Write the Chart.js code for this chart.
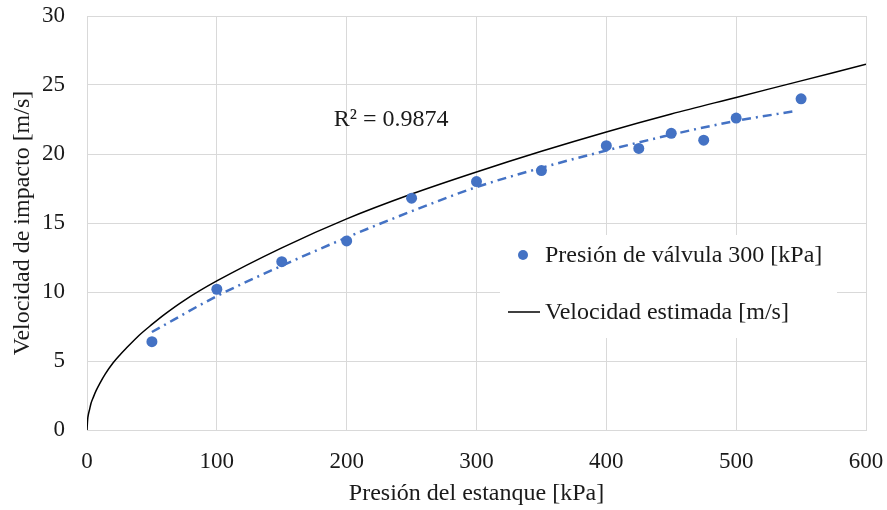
<!DOCTYPE html>
<html>
<head>
<meta charset="utf-8">
<script src="https://cdn.jsdelivr.net/npm/chart.js@4.4.1/dist/chart.umd.min.js"></script>
<style>
html,body{margin:0;padding:0;background:#fff;}
#wrap{width:887px;height:510px;position:relative;}
</style>
</head>
<body>
<div id="wrap"><canvas id="c" width="887" height="510"></canvas></div>
<script>
// Measured data (Presión de válvula 300 kPa)
const pressures = [50, 100, 150, 200, 250, 300, 350, 400, 425, 450, 475, 500, 550];
const impactVelocity = [6.4, 10.2, 12.2, 13.7, 16.8, 18.0, 18.8, 20.6, 20.4, 21.5, 21.0, 22.6, 24.0];
// Estimated velocity curve
const estPressure = [0, 0.5, 1, 2, 3, 5, 7, 10, 14, 20, 25, 30, 40, 50, 60, 75, 100, 150, 200, 250, 300, 350, 400, 450, 500, 550, 600];
const estVelocity = [0, 0.77, 1.1, 1.5, 1.9, 2.4, 2.85, 3.4, 4.05, 4.85, 5.4, 5.9, 6.85, 7.65, 8.4, 9.4, 10.8, 13.2, 15.3, 17.1, 18.7, 20.2, 21.6, 22.9, 24.1, 25.3, 26.5];
// Trend line (dash-dot)
const trendPressure = [50, 100, 150, 200, 250, 300, 350, 400, 450, 500, 545];
const trendVelocity = [7.1, 9.7, 11.9, 13.95, 15.85, 17.6, 19.0, 20.25, 21.4, 22.4, 23.1];
// Labels
const seriesLabels = ["Presión de válvula 300 [kPa]", "Velocidad estimada [m/s]"];
const xTitle = "Presión del estanque [kPa]";
const yTitle = "Velocidad de impacto [m/s]";
const r2Text = "R² = 0.9874";

const FONT = "'Liberation Serif', 'DejaVu Serif', serif";
const BLUE = '#4472C4';
const TXT = '#1a1a1a';
const GRID = '#d9d9d9';

const toXY = (xs, ys) => xs.map((x, i) => ({x: x, y: ys[i]}));

const overlay = {
  id: 'overlay',
  afterDatasetsDraw(chart) {
    const ctx = chart.ctx;
    const xs = chart.scales.x, ys = chart.scales.y;
    ctx.save();
    // R² annotation
    ctx.font = "24px " + FONT;
    ctx.fillStyle = TXT;
    ctx.textBaseline = 'middle';
    ctx.textAlign = 'left';
    ctx.fillText(r2Text, xs.getPixelForValue(190), ys.getPixelForValue(22.45));
    // Legend box
    ctx.fillStyle = '#ffffff';
    ctx.fillRect(500, 235, 337, 103);
    ctx.fillStyle = BLUE;
    ctx.beginPath();
    ctx.arc(523, 255, 5, 0, Math.PI * 2);
    ctx.fill();
    ctx.fillStyle = TXT;
    ctx.fillText(seriesLabels[0], 545, 256);
    ctx.strokeStyle = '#000';
    ctx.lineWidth = 1.5;
    ctx.beginPath();
    ctx.moveTo(508, 312);
    ctx.lineTo(540, 312);
    ctx.stroke();
    ctx.fillText(seriesLabels[1], 545, 313);
    ctx.restore();
  }
};

new Chart(document.getElementById('c'), {
  data: {
    datasets: [
      {
        type: 'scatter',
        label: seriesLabels[0],
        data: toXY(pressures, impactVelocity),
        pointRadius: 5.5,
        pointHoverRadius: 5.5,
        backgroundColor: BLUE,
        borderWidth: 0,
        showLine: false,
        order: 0
      },
      {
        type: 'line',
        label: 'trend',
        data: toXY(trendPressure, trendVelocity),
        borderColor: BLUE,
        borderWidth: 2.5,
        borderDash: [9, 5, 2, 5],
        pointRadius: 0,
        cubicInterpolationMode: 'monotone',
        fill: false,
        order: 1
      },
      {
        type: 'line',
        label: seriesLabels[1],
        data: toXY(estPressure, estVelocity),
        borderColor: '#000',
        borderWidth: 1.5,
        pointRadius: 0,
        cubicInterpolationMode: 'monotone',
        fill: false,
        order: 2
      }
    ]
  },
  options: {
    responsive: false,
    animation: false,
    devicePixelRatio: 1,
    layout: {padding: {left: 0, right: 21, top: 16, bottom: 0}},
    plugins: {legend: {display: false}, tooltip: {enabled: false}},
    scales: {
      x: {
        type: 'linear',
        min: 0, max: 600,
        ticks: {stepSize: 100, color: TXT, font: {family: FONT, size: 23}, padding: 18},
        grid: {color: GRID, drawTicks: false},
        border: {color: GRID},
        title: {display: true, text: xTitle, color: TXT, font: {family: FONT, size: 24}, padding: {top: 0, bottom: 2}},
        afterFit(s) { s.height = 80; s.paddingLeft = 0; s.paddingRight = 0; }
      },
      y: {
        type: 'linear',
        min: 0, max: 30,
        ticks: {stepSize: 5, color: TXT, font: {family: FONT, size: 23}, padding: 22},
        grid: {color: GRID, drawTicks: false},
        border: {color: GRID},
        title: {display: true, text: yTitle, color: TXT, font: {family: FONT, size: 24}, padding: {top: 8, bottom: 0}},
        afterFit(s) { s.width = 87; s.paddingTop = 0; s.paddingBottom = 0; }
      }
    }
  },
  plugins: [overlay]
});
</script>
</body>
</html>
